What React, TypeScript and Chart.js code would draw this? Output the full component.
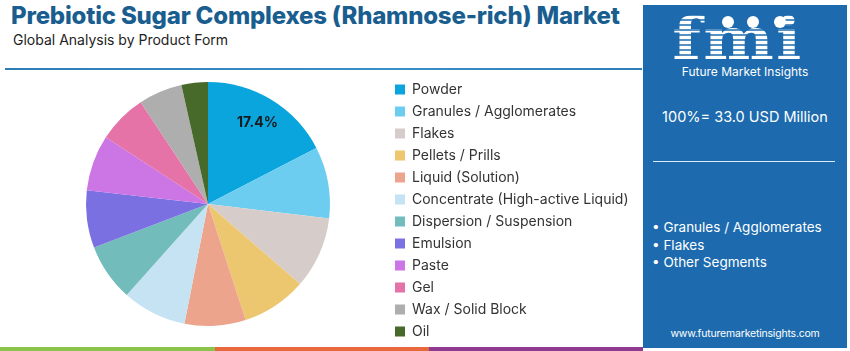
import React, { useEffect, useRef } from "react";
import { Chart, registerables } from "chart.js";

Chart.register(...registerables);

const categories = [
  "Powder",
  "Granules / Agglomerates",
  "Flakes",
  "Pellets / Prills",
  "Liquid (Solution)",
  "Concentrate (High-active Liquid)",
  "Dispersion / Suspension",
  "Emulsion",
  "Paste",
  "Gel",
  "Wax / Solid Block",
  "Oil",
];
const shares = [17.4, 9.5, 9.5, 8.6, 8.1, 8.5, 7.6, 7.6, 7.4, 6.5, 5.8, 3.5];
const sliceColors = [
  "#0aa5dd",
  "#6dcdf1",
  "#d6cdca",
  "#ecc76f",
  "#eca58c",
  "#c6e3f3",
  "#72bdbb",
  "#7a70e1",
  "#cc75e4",
  "#e673a7",
  "#aeaeae",
  "#476a2b",
];
const labelledSlices = [0];
const highlightSegments = ["Granules / Agglomerates", "Flakes", "Other Segments"];
const titleText = "Prebiotic Sugar Complexes (Rhamnose-rich) Market";
const subtitleText = "Global Analysis by Product Form";
const totalText = "100%= 33.0 USD Million";
const siteText = "www.futuremarketinsights.com";

const FONT = "Inter, 'Open Sans', sans-serif";
const LEGEND_FONT_SIZE = 14;
const LEGEND_BOX = 10;
const LEGEND_PAD = 8;

const sliceLabelPlugin = {
  id: "sliceLabel",
  afterDatasetsDraw(chart: any) {
    const meta = chart.getDatasetMeta(0);
    const ctx = chart.ctx;
    ctx.save();
    ctx.font = `700 14px ${FONT}`;
    ctx.fillStyle = "#1a1a1a";
    ctx.textAlign = "center";
    ctx.textBaseline = "middle";
    labelledSlices.forEach((i) => {
      const arc = meta.data[i];
      if (!arc) return;
      const { x, y, startAngle, endAngle, outerRadius } = arc.getProps(
        ["x", "y", "startAngle", "endAngle", "outerRadius"],
        true
      );
      const mid = (startAngle + endAngle) / 2;
      const r = outerRadius * 0.78;
      ctx.fillText(`${shares[i].toFixed(1)}%`, x + Math.cos(mid) * r, y + Math.sin(mid) * r);
    });
    ctx.restore();
  },
};

function PieChart() {
  const ref = useRef<HTMLCanvasElement | null>(null);
  useEffect(() => {
    if (!ref.current) return;
    // measure the widest legend label so the legend's left edge lands where wanted
    const mctx = ref.current.getContext("2d")!;
    mctx.font = `${LEGEND_FONT_SIZE}px ${FONT}`;
    const maxText = Math.max(...categories.map((c) => mctx.measureText(c).width));
    const legendWidth = LEGEND_PAD + LEGEND_BOX + LEGEND_FONT_SIZE / 2 + maxText + 10;
    const legendLeft = 387;
    const rightPad = Math.max(0, 640 - legendLeft - legendWidth);

    const chart = new Chart(ref.current, {
      type: "pie",
      data: {
        labels: categories,
        datasets: [
          {
            data: shares,
            backgroundColor: sliceColors,
            borderWidth: 0,
            radius: 122,
          } as any,
        ],
      },
      options: {
        responsive: false,
        animation: false,
        layout: { padding: { left: 29, right: rightPad, top: 59, bottom: 2 } },
        plugins: {
          tooltip: { enabled: false },
          legend: {
            position: "right",
            align: "center",
            title: { display: true, text: "", font: { size: 5 }, padding: { top: 3.5, bottom: 3.5 } },
            labels: {
              boxWidth: LEGEND_BOX,
              boxHeight: LEGEND_BOX,
              padding: LEGEND_PAD,
              color: "#333333",
              font: { family: FONT, size: LEGEND_FONT_SIZE },
            },
          },
        },
      } as any,
      plugins: [sliceLabelPlugin],
    });
    return () => chart.destroy();
  }, []);
  return (
    <canvas
      ref={ref}
      width={640}
      height={351}
      style={{ position: "absolute", left: 0, top: 0, width: 640, height: 351 }}
    />
  );
}

export default function App() {
  return (
    <div
      style={{
        position: "fixed",
        left: 0,
        top: 0,
        width: 850,
        height: 351,
        background: "#ffffff",
        overflow: "hidden",
        fontFamily: FONT,
      }}
    >
      <div
        style={{
          position: "absolute",
          left: 11,
          top: 3,
          fontSize: 24,
          lineHeight: "26px",
          fontWeight: 800,
          color: "#195e8f",
          whiteSpace: "nowrap",
          letterSpacing: "-0.2px",
        }}
      >
        {titleText}
      </div>
      <div
        style={{
          position: "absolute",
          left: 13,
          top: 31,
          fontSize: 14,
          lineHeight: "18px",
          color: "#222222",
          whiteSpace: "nowrap",
        }}
      >
        {subtitleText}
      </div>
      <div
        style={{
          position: "absolute",
          left: 5,
          top: 68,
          width: 637,
          height: 2,
          background: "linear-gradient(90deg, #2f7db6, #3a8fc6 60%, #2f7db6)",
        }}
      />
      <PieChart />
      {/* right panel */}
      <div
        style={{
          position: "absolute",
          left: 643,
          top: 5,
          width: 204,
          height: 343,
          background: "#1d6bae",
          color: "#ffffff",
        }}
      >
        <div
          style={{
            position: "absolute",
            left: 30,
            top: 6,
            width: 130,
            height: 56,
            textAlign: "center",
            fontFamily: "'DejaVu Serif', serif",
            fontWeight: 700,
            fontSize: 58,
            lineHeight: "56px",
            letterSpacing: "2px",
            background:
              "repeating-linear-gradient(180deg, #ffffff 0px, #ffffff 3px, rgba(255,255,255,0.25) 3px, rgba(255,255,255,0.25) 5px)",
            WebkitBackgroundClip: "text",
            backgroundClip: "text",
            color: "transparent",
            transform: "scaleX(1.15)",
          }}
        >
          fmi
        </div>
        {[85, 110, 137].map((x, i) => (
          <div
            key={i}
            style={{
              position: "absolute",
              left: x - 6,
              top: 11,
              width: 12,
              height: 12,
              borderRadius: 6,
              background: "#ffffff",
            }}
          />
        ))}
        <div
          style={{
            position: "absolute",
            left: 0,
            width: 204,
            top: 59,
            textAlign: "center",
            fontSize: 12,
            lineHeight: "16px",
            paddingRight: 2,
          }}
        >
          Future Market Insights
        </div>
        <div
          style={{
            position: "absolute",
            left: 0,
            width: 204,
            top: 102,
            textAlign: "center",
            fontSize: 14.5,
            lineHeight: "20px",
          }}
        >
          {totalText}
        </div>
        <div
          style={{
            position: "absolute",
            left: 10,
            top: 156,
            width: 182,
            height: 1,
            background: "rgba(255,255,255,0.85)",
          }}
        />
        {highlightSegments.map((s, i) => (
          <div
            key={s}
            style={{
              position: "absolute",
              left: 9,
              top: 213 + i * 17.5,
              fontSize: 13.5,
              lineHeight: "18px",
              whiteSpace: "nowrap",
            }}
          >
            {"\u2022 " + s}
          </div>
        ))}
        <div
          style={{
            position: "absolute",
            left: 0,
            width: 204,
            top: 322,
            textAlign: "center",
            fontSize: 10.5,
            lineHeight: "14px",
            letterSpacing: "-0.2px",
          }}
        >
          {siteText}
        </div>
      </div>
      {/* bottom bar */}
      <div style={{ position: "absolute", left: 0, top: 347, width: 215, height: 4, background: "#8cc44b" }} />
      <div style={{ position: "absolute", left: 215, top: 347, width: 214, height: 4, background: "#e8673b" }} />
      <div style={{ position: "absolute", left: 429, top: 347, width: 214, height: 4, background: "#8e3b8f" }} />
    </div>
  );
}
